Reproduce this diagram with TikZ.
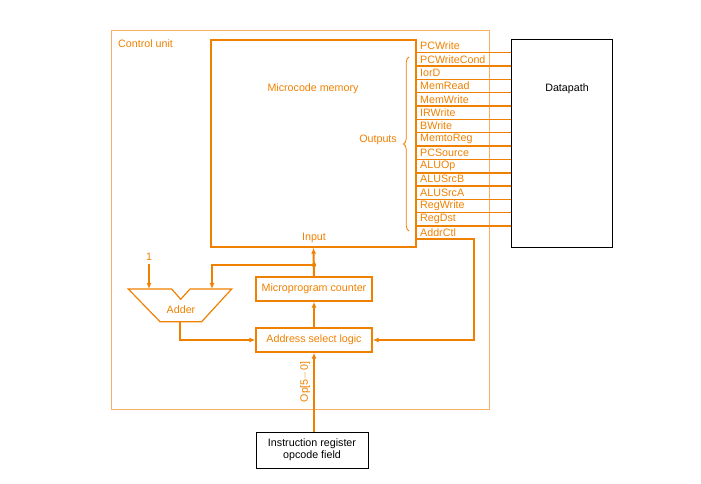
\documentclass[tikz,border=0pt]{standalone}
\usepackage{fontspec}
\setmainfont{Liberation Sans}
\usetikzlibrary{arrows.meta,decorations.pathreplacing}
\definecolor{org}{RGB}{240,128,0}
\definecolor{lorg}{RGB}{246,175,100}
\begin{document}
\begin{tikzpicture}[x=1pt,y=-1pt, font=\fontsize{10.7}{12}\selectfont,
  box/.style={draw=org, line width=1.4pt, text=org, inner sep=0pt},
  blk/.style={draw=black, line width=1pt, inner sep=0pt, align=center},
  sig/.style={draw=org, line width=1.1pt},
  thk/.style={draw=org, line width=1.9pt},
  bus/.style={draw=org, line width=2pt, -{Latex[length=6pt,width=5pt]}},
  lbl/.style={text=org, inner sep=0pt}]
\useasboundingbox (0,0) rectangle (701,484);
% control unit
\draw[lorg, line width=1pt] (111,30.5) rectangle (489,409);
\node[lbl, anchor=west] (cu) at (118,44) {Control unit};
% microcode memory
\node[box, minimum width=205pt, minimum height=207pt] (mem) at (313.5,143.5) {};
\node[lbl] (mcm) at (313,89) {Microcode memory};
\node[lbl] (inp) at (314,238) {Input};
% datapath
\node[blk, minimum width=101pt, minimum height=207pt] (dp) at (561.5,143.5) {};
\node[inner sep=0pt] (dpl) at (567,89) {Datapath};
% output signals
\foreach \s [count=\i from 0] in {PCWrite,PCWriteCond,IorD,MemRead,MemWrite,IRWrite,BWrite,MemtoReg,PCSource,ALUOp,ALUSrcB,ALUSrcA,RegWrite,RegDst}{
  \pgfmathsetmacro{\yy}{52.7+13.33*\i}
  \coordinate (s\i) at (416,\yy);
  \ifnum\i=9 \def\st{thk}\else\ifnum\i=10 \def\st{thk}\else\def\st{sig}\fi\fi
  \draw[\st] (s\i) -- (dp.west |- s\i);
  \node[lbl, anchor=west] (l\i) at (420,\yy-6.7) {\s};
}
\node[lbl, anchor=west] (lac) at (420,232.6) {AddrCtl};
\draw[org, line width=0.8pt, decorate, decoration={brace, amplitude=5.5pt}] (409,231) -- (409,57);
\node[lbl, anchor=east] (outs) at (397,139.5) {Outputs};
% lower blocks
\node[box, minimum width=116pt, minimum height=24pt] (mpc) at (314,289) {Microprogram counter};
\node[box, minimum width=116pt, minimum height=24pt] (asl) at (314,340) {Address select logic};
\node[blk, minimum width=112pt, minimum height=36pt] (ir) at (312,450) {Instruction register\\opcode field};
% adder
\draw[org, line width=1.2pt] (128.3,289) -- (171.7,289) -- (180.7,299.3) -- (190,289) -- (231.7,289) -- (201.7,321.7) -- (160,321.7) -- cycle;
\node[lbl] (add) at (181,310) {Adder};
\coordinate (addin1) at (149,289);
\coordinate (addin2) at (212,289);
\coordinate (addout) at (180,321.7);
\node[lbl] (one) at (149,257) {1};
% connectors
\coordinate (jn) at (314,265);
\draw[bus] (mpc.north) -- (mem.south);
\fill[org] (jn) circle (2.2pt);
\draw[bus] (jn) -| (addin2);
\draw[bus] (one.south) ++(0,3) -- (addin1);
\draw[bus] (addout) |- (asl.west);
\draw[bus] (asl.north) -- (mpc.south);
\coordinate (ac0) at (416,239.3);
\coordinate (ac1) at (474,239.3);
\draw[bus] (ac0) -- (ac1) |- (asl.east);
\draw[bus] (ir.north -| asl.south) -- (asl.south);
\node[lbl, rotate=90] (op) at (305,382) {Op[5$-$0]};
\end{tikzpicture}
\end{document}
